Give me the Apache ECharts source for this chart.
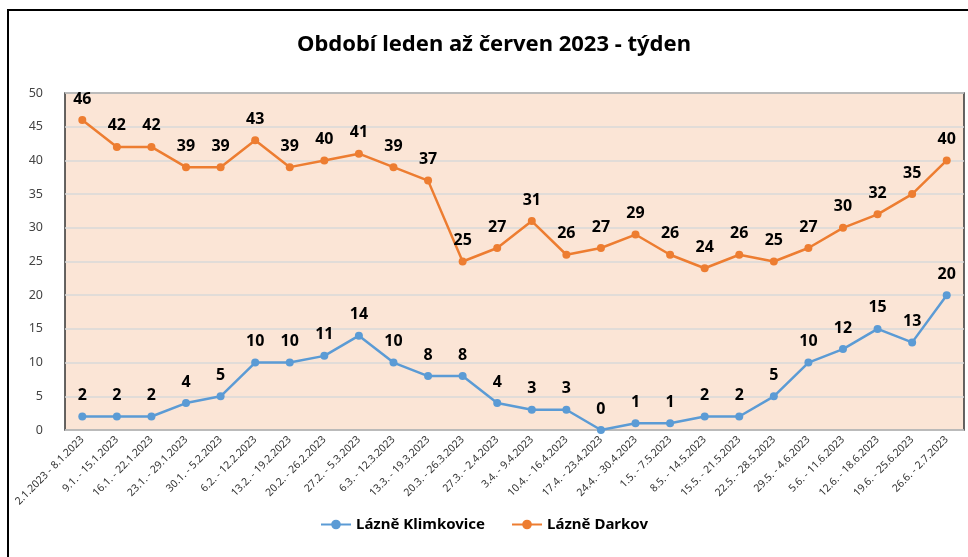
<!DOCTYPE html>
<html>
<head>
<meta charset="utf-8"/>
<title>Období leden až červen 2023</title>
<script src="https://cdn.jsdelivr.net/npm/echarts@6/dist/echarts.min.js"></script>
<style>
  html, body { margin: 0; padding: 0; background: #fff; }
  #chart { width: 968px; height: 557px; }
</style>
</head>
<body>
<div id="chart"></div>
<script>
// data
var weeks = [
  '2.1.2023 - 8.1.2023', '9.1. - 15.1.2023', '16.1. - 22.1.2023', '23.1. - 29.1.2023',
  '30.1. - 5.2.2023', '6.2. - 12.2.2023', '13.2. - 19.2.2023', '20.2. - 26.2.2023',
  '27.2. - 5.3.2023', '6.3. - 12.3.2023', '13.3. - 19.3.2023', '20.3. - 26.3.2023',
  '27.3. - 2.4.2023', '3.4. - 9.4.2023', '10.4. - 16.4.2023', '17.4. - 23.4.2023',
  '24.4. - 30.4.2023', '1.5. - 7.5.2023', '8.5. - 14.5.2023', '15.5. - 21.5.2023',
  '22.5. - 28.5.2023', '29.5. - 4.6.2023', '5.6. - 11.6.2023', '12.6. - 18.6.2023',
  '19.6. - 25.6.2023', '26.6. - 2.7.2023'
];
var klimkovice = [2, 2, 2, 4, 5, 10, 10, 11, 14, 10, 8, 8, 4, 3, 3, 0, 1, 1, 2, 2, 5, 10, 12, 15, 13, 20];
var darkov = [46, 42, 42, 39, 39, 43, 39, 40, 41, 39, 37, 25, 27, 31, 26, 27, 29, 26, 24, 26, 25, 27, 30, 32, 35, 40];

var font = 'Noto Sans';
var myChart = echarts.init(document.getElementById('chart'));

function lineSeries(name, data, color) {
  return {
    name: name,
    type: 'line',
    data: data,
    symbol: 'circle',
    symbolSize: 8,
    lineStyle: { color: color, width: 2.5 },
    itemStyle: { color: color },
    label: {
      show: true,
      position: 'top',
      distance: 9,
      color: '#000',
      fontFamily: font,
      fontWeight: 'bold',
      fontSize: 16
    },
    animation: false
  };
}

var option = {
  backgroundColor: '#fff',
  title: {
    text: 'Období leden až červen 2023 - týden',
    left: 292,
    top: 29,
    textStyle: { fontFamily: font, fontWeight: 'bold', fontSize: 22, color: '#000' }
  },
  graphic: [
    { type: 'rect', shape: { x: 8, y: 10, width: 980, height: 560 },
      style: { fill: 'none', stroke: '#000', lineWidth: 2 }, z: -1 }
  ],
  legend: {
    bottom: 20,
    left: 'center',
    itemGap: 26,
    itemWidth: 30,
    itemHeight: 12,
    textStyle: { fontFamily: font, fontWeight: 'bold', fontSize: 15, color: '#000' },
    data: ['Lázně Klimkovice', 'Lázně Darkov']
  },
  grid: {
    left: 65, right: 4, top: 93, bottom: 127,
    show: true,
    backgroundColor: '#fbe5d6',
    borderColor: '#333',
    borderWidth: 1.5
  },
  xAxis: {
    type: 'category',
    data: weeks,
    boundaryGap: true,
    axisLine: { show: false },
    axisTick: { show: false },
    axisLabel: {
      interval: 0,
      rotate: 45,
      fontFamily: font,
      fontSize: 10.5,
      color: '#333',
      margin: 8
    }
  },
  yAxis: {
    type: 'value',
    min: 0,
    max: 50,
    interval: 5,
    axisLine: { show: false },
    axisTick: { show: false },
    axisLabel: { fontFamily: font, fontSize: 12.5, color: '#444', margin: 22 },
    splitLine: { lineStyle: { color: '#d9d9d9', width: 1.5 } }
  },
  series: [
    lineSeries('Lázně Klimkovice', klimkovice, '#5b9bd5'),
    lineSeries('Lázně Darkov', darkov, '#ed7d31')
  ]
};
myChart.setOption(option);
</script>
</body>
</html>
